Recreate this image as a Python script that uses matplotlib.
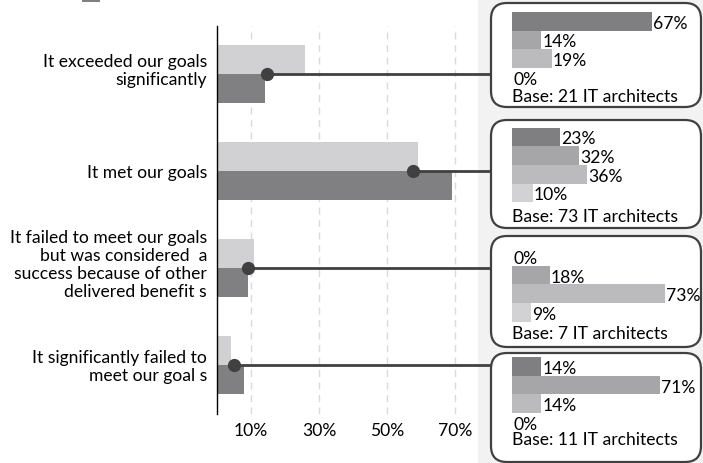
import matplotlib
matplotlib.use("Agg")
import matplotlib.pyplot as plt
from matplotlib.patches import FancyBboxPatch, Rectangle
from matplotlib.transforms import IdentityTransform
import numpy as np

plt.rcParams['font.family'] = ['Lato', 'DejaVu Sans']

# ---------------- data ----------------
categories = [
    "It exceeded our goals\nsignificantly",
    "It met our goals",
    "It failed to meet our goals\nbut was considered  a\nsuccess because of other\ndelivered benefit s",
    "It significantly failed to\nmeet our goal s",
]
light_vals = [26, 59, 11, 4]
dark_vals = [14, 69, 9, 8]
dot_vals = [14.6, 57.7, 9.2, 5.0]
xticks = [10, 30, 50, 70]
xtick_labels = ["10%", "30%", "50%", "70%"]

box1_vals = [67, 14, 19, 0]
box2_vals = [23, 32, 36, 10]
box3_vals = [0, 18, 73, 9]
box4_vals = [14, 71, 14, 0]
box_bases = ["Base: 21 IT architects", "Base: 73 IT architects",
             "Base: 7 IT architects", "Base: 11 IT architects"]

# ---------------- styles ----------------
LIGHT = '#d1d1d3'
DARK = '#808083'
mini_colors = ['#7f7f81', '#a6a6a8', '#bbbbbd', '#d2d2d4']
LINE = '#404040'
FS = 12.6

W, H = 703, 464
fig = plt.figure(figsize=(W / 100, H / 100), dpi=100)

def fx(px):
    return px / W

def fy(py):
    return 1 - py / H

# right grey panel
fig.patches.append(Rectangle((fx(478), 0), 1 - fx(478), 1, transform=fig.transFigure,
                             facecolor='#f2f2f2', edgecolor='none', zorder=-5))
# cut-off legend swatch at top
fig.patches.append(Rectangle((82, H - 3), 18, 3, transform=IdentityTransform(),
                             facecolor=DARK, edgecolor='none', zorder=-4))

# ---------------- main chart ----------------
px_per_pct = 3.4
ax = fig.add_axes([fx(217), fy(415), fx(478) - fx(217), (415 - 27) / H])
ax.set_facecolor('none')
ax.set_xlim(0, (478 - 217) / px_per_pct)
ax.set_ylim(3.505, -0.495)
y = np.arange(len(categories))
ax.barh(y - 0.15, light_vals, height=0.3, color=LIGHT, zorder=2)
ax.barh(y + 0.15, dark_vals, height=0.3, color=DARK, zorder=2)

x_end = (491 - 217) / px_per_pct
for i, d in enumerate(dot_vals):
    ax.plot([d, x_end], [i, i], color=LINE, lw=2, clip_on=False, zorder=3,
            solid_capstyle='butt')
    ax.plot([d], [i], 'o', color=LINE, ms=8.5, clip_on=False, zorder=4)

ax.set_xticks(xticks)
ax.set_xticklabels(xtick_labels, fontsize=FS)
ax.xaxis.grid(True, linestyle=(0, (5, 4)), color='#dadada', lw=1)
ax.set_axisbelow(True)
ax.set_yticks([])
ax.tick_params(axis='x', length=0, pad=6)
for s in ['top', 'right', 'bottom']:
    ax.spines[s].set_visible(False)
ax.spines['left'].set_color('black')
ax.spines['left'].set_linewidth(1)

# category labels (placed beside each bar pair)
label_centers = [71, 173, 265, 367]
for lab, yc in zip(categories, label_centers):
    fig.text(fx(207), fy(yc), lab, ha='right', va='center', fontsize=FS,
             linespacing=1.15)

# ---------------- side boxes ----------------
box_specs = [  # (top, bottom, first row center, base text center)
    (4, 108, 22.3, 97),
    (121, 229, 138, 217),
    (237, 348, 257.5, 334),
    (354, 463, 367.5, 440),
]
all_box_vals = [box1_vals, box2_vals, box3_vals, box4_vals]
row_h = 18.6
mini_px = 2.09
mini_left, mini_right = 512, 701

for (top, bot, c0, base_y), vals, base in zip(box_specs, all_box_vals, box_bases):
    fig.patches.append(FancyBboxPatch((491, H - bot), 210, bot - top,
                                      boxstyle='round,pad=0,rounding_size=16',
                                      transform=IdentityTransform(),
                                      facecolor='white', edgecolor=LINE, lw=1.6,
                                      zorder=-1))
    a_top = c0 - row_h / 2
    a_bot = c0 + 3 * row_h + row_h / 2
    bx = fig.add_axes([fx(mini_left), fy(a_bot), fx(mini_right) - fx(mini_left),
                       (a_bot - a_top) / H])
    bx.set_facecolor('none')
    bx.set_xlim(0, (mini_right - mini_left) / mini_px)
    bx.set_ylim(3.5, -0.5)
    bx.barh(np.arange(4), vals, height=1.0, color=mini_colors)
    for k, v in enumerate(vals):
        bx.text(v + 0.5, k + 0.08, f"{v}%", va='center', ha='left', fontsize=FS)
    bx.axis('off')
    fig.text(fx(512), fy(base_y), base, va='center', ha='left', fontsize=FS)

fig.savefig('out.png', dpi=100)
